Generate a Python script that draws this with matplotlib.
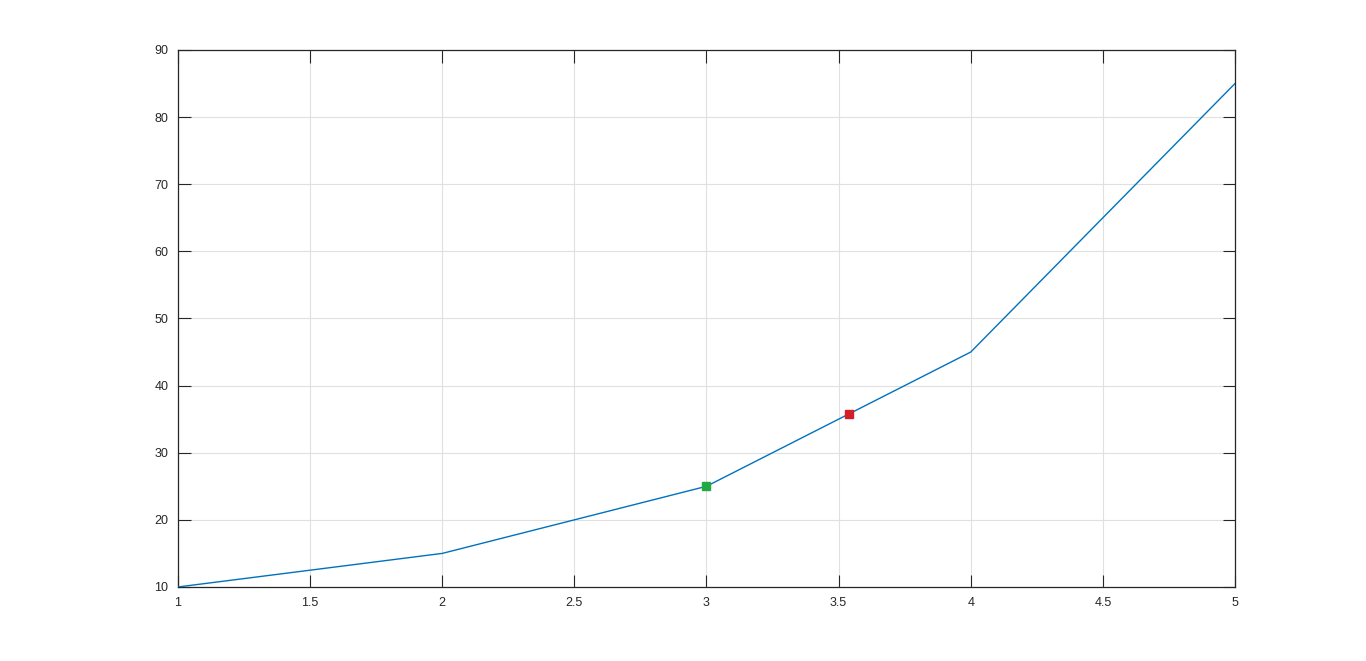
import matplotlib
matplotlib.use("Agg")
import matplotlib.pyplot as plt

x_vals = [1, 2, 3, 4, 5]
y_vals = [10, 15, 25, 45, 85]
start_pt = (3, 25)
mark_pt = (3.54, 35.8)

plt.rcParams["font.family"] = ["Liberation Sans", "DejaVu Sans"]

fig = plt.figure(figsize=(13.66, 6.61), dpi=100)
ax = fig.add_axes([0.1303, 0.112, 0.7738, 0.8124])

ax.plot(x_vals, y_vals, color="#0072BD", linewidth=1.0, zorder=3)
ax.plot(*start_pt, marker="s", color="#22a844", markersize=6, linestyle="none", zorder=4)
ax.plot(*mark_pt, marker="s", color="#d41f2a", markersize=6, linestyle="none", zorder=4)

ax.set_xlim(1, 5)
ax.set_ylim(10, 90)
ax.set_xticks([1, 1.5, 2, 2.5, 3, 3.5, 4, 4.5, 5])
ax.set_xticklabels(["1", "1.5", "2", "2.5", "3", "3.5", "4", "4.5", "5"])
ax.set_yticks(range(10, 91, 10))

ax.grid(True, color="#e0e0e0", linewidth=0.8)
ax.set_axisbelow(True)
ax.tick_params(direction="in", length=9, width=0.8, top=True, right=True,
               labelsize=9, colors="#262626", pad=7)
for s in ax.spines.values():
    s.set_color("#262626")
    s.set_linewidth(0.9)

fig.savefig("out.png", dpi=100, facecolor="white")
